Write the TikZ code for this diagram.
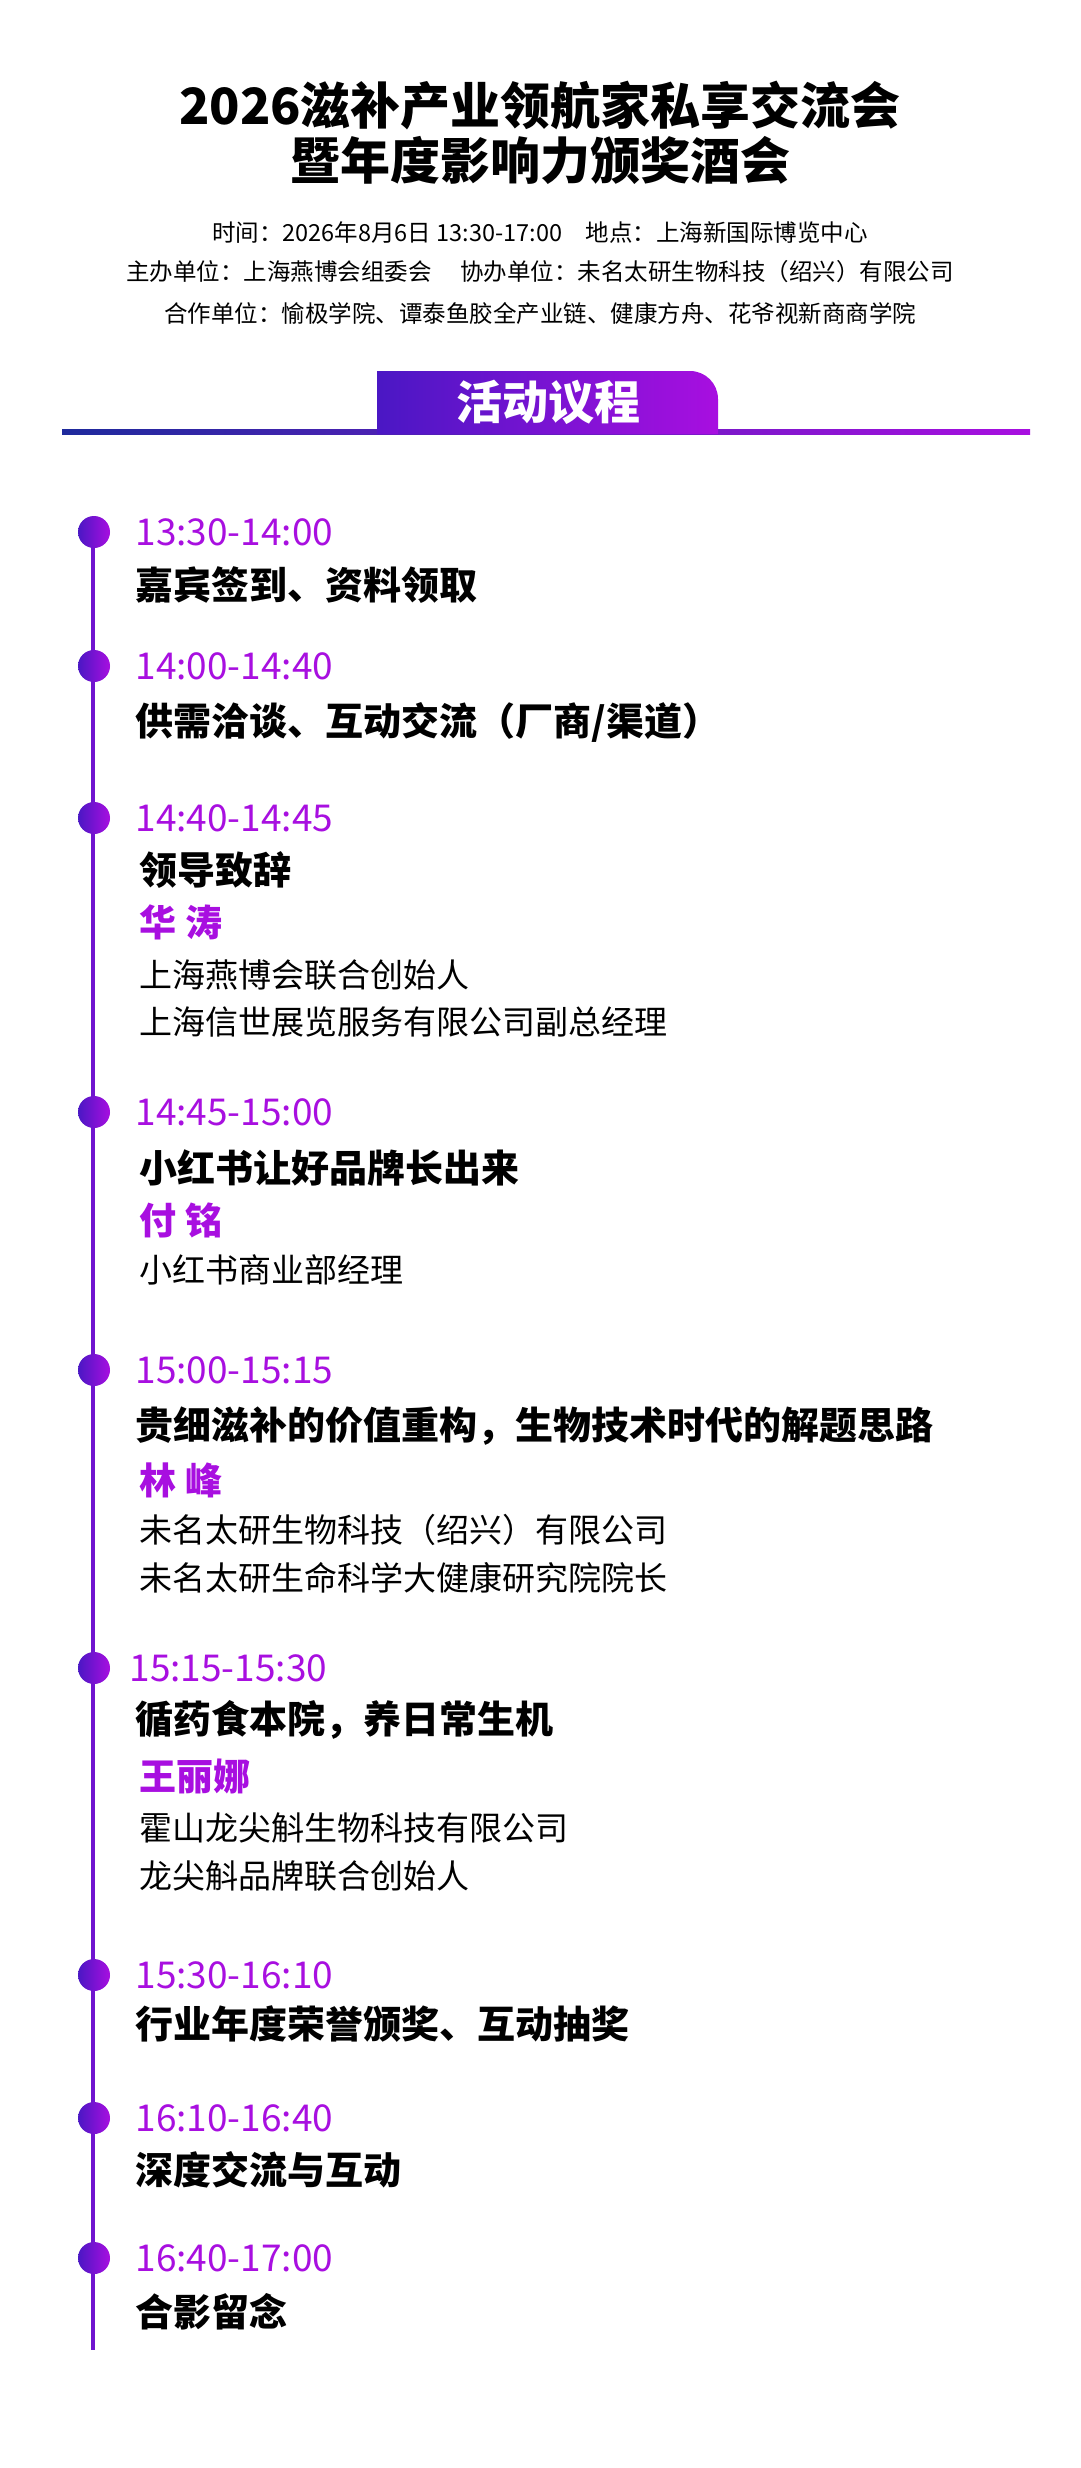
\documentclass[tikz,border=0pt]{standalone}
\usepackage{fontspec}
\setmainfont{Noto Sans CJK SC}
\usetikzlibrary{calc}
\definecolor{pur}{HTML}{A80FE0}
\definecolor{blu}{HTML}{4A17C4}
\definecolor{dblu}{HTML}{1E2A9C}
\begin{document}
\begin{tikzpicture}[x=1pt,y=-1pt,
  tm/.style={anchor=west,text=pur,font=\fontsize{37}{37}\selectfont},
  tt/.style={anchor=west,text=black,font=\fontsize{38}{38}\selectfont\bfseries},
  nm/.style={anchor=west,text=pur,font=\fontsize{37}{37}\selectfont\bfseries},
  ds/.style={anchor=west,text=black,font=\fontsize{33}{33}\selectfont},
  info/.style={text=black,font=\fontsize{23.5}{23.5}\selectfont},
  dot/.style={circle,minimum size=32pt,inner sep=0pt,left color=blu,right color=pur,draw=none}]
\useasboundingbox (0,0) rectangle (1080,2468);
\fill[white] (0,0) rectangle (1080,2468);
\node[font=\fontsize{50}{50}\selectfont\bfseries] (t1) at (540,106) {2026滋补产业领航家私享交流会};
\node[font=\fontsize{50}{50}\selectfont\bfseries] (t2) at (540,160) {暨年度影响力颁奖酒会};
\node[info] (i1) at (540,233) {时间：2026年8月6日 13:30-17:00\quad 地点：上海新国际博览中心};
\node[info] (i2) at (540,272) {主办单位：上海燕博会组委会\quad\ 协办单位：未名太研生物科技（绍兴）有限公司};
\node[info] (i3) at (540,314) {合作单位：愉极学院、谭泰鱼胶全产业链、健康方舟、花爷视新商商学院};
% header bar
\shade[left color=dblu,right color=pur] (62,429) rectangle (1030,434);
\shade[left color=blu,right color=pur] (377,434) -- (377,371) -- (690,371) arc[start angle=-90,end angle=0,radius=28] -- (718,434) -- cycle;
\node[text=white,font=\fontsize{46}{46}\selectfont\bfseries] (hd) at (548,402) {活动议程};
% timeline
\coordinate (ls) at (93,532);
\coordinate (le) at (93,2350);
\draw[line width=4pt,color=blu!60!pur] (ls) -- (le);
\foreach \y/\n in {532/a,666/b,818/c,1112/d,1370/e,1668/f,1975/g,2118/h,2258/i}
  \node[dot] (d\n) at (94,\y) {};
\node[tm] at (132,532) {13:30-14:00};
\node[tt] at (132,585) {嘉宾签到、资料领取};
\node[tm] at (132,666) {14:00-14:40};
\node[tt] at (132,722) {供需洽谈、互动交流（厂商/渠道）};
\node[tm] at (132,818) {14:40-14:45};
\node[tt] at (136,870) {领导致辞};
\node[nm] at (136,922) {华 涛};
\node[ds] at (136,975) {上海燕博会联合创始人};
\node[ds] at (136,1022) {上海信世展览服务有限公司副总经理};
\node[tm] at (132,1112) {14:45-15:00};
\node[tt] at (136,1168) {小红书让好品牌长出来};
\node[nm] at (136,1220) {付 铭};
\node[ds] at (136,1270) {小红书商业部经理};
\node[tm] at (132,1370) {15:00-15:15};
\node[tt] at (132,1426) {贵细滋补的价值重构，生物技术时代的解题思路};
\node[nm] at (136,1480) {林 峰};
\node[ds] at (136,1530) {未名太研生物科技（绍兴）有限公司};
\node[ds] at (136,1578) {未名太研生命科学大健康研究院院长};
\node[tm] at (126,1668) {15:15-15:30};
\node[tt] at (132,1720) {循药食本院，养日常生机};
\node[nm] at (136,1776) {王丽娜};
\node[ds] at (136,1828) {霍山龙尖斛生物科技有限公司};
\node[ds] at (136,1876) {龙尖斛品牌联合创始人};
\node[tm] at (132,1975) {15:30-16:10};
\node[tt] at (132,2024) {行业年度荣誉颁奖、互动抽奖};
\node[tm] at (132,2118) {16:10-16:40};
\node[tt] at (132,2170) {深度交流与互动};
\node[tm] at (132,2258) {16:40-17:00};
\node[tt] at (132,2312) {合影留念};
\end{tikzpicture}
\end{document}
